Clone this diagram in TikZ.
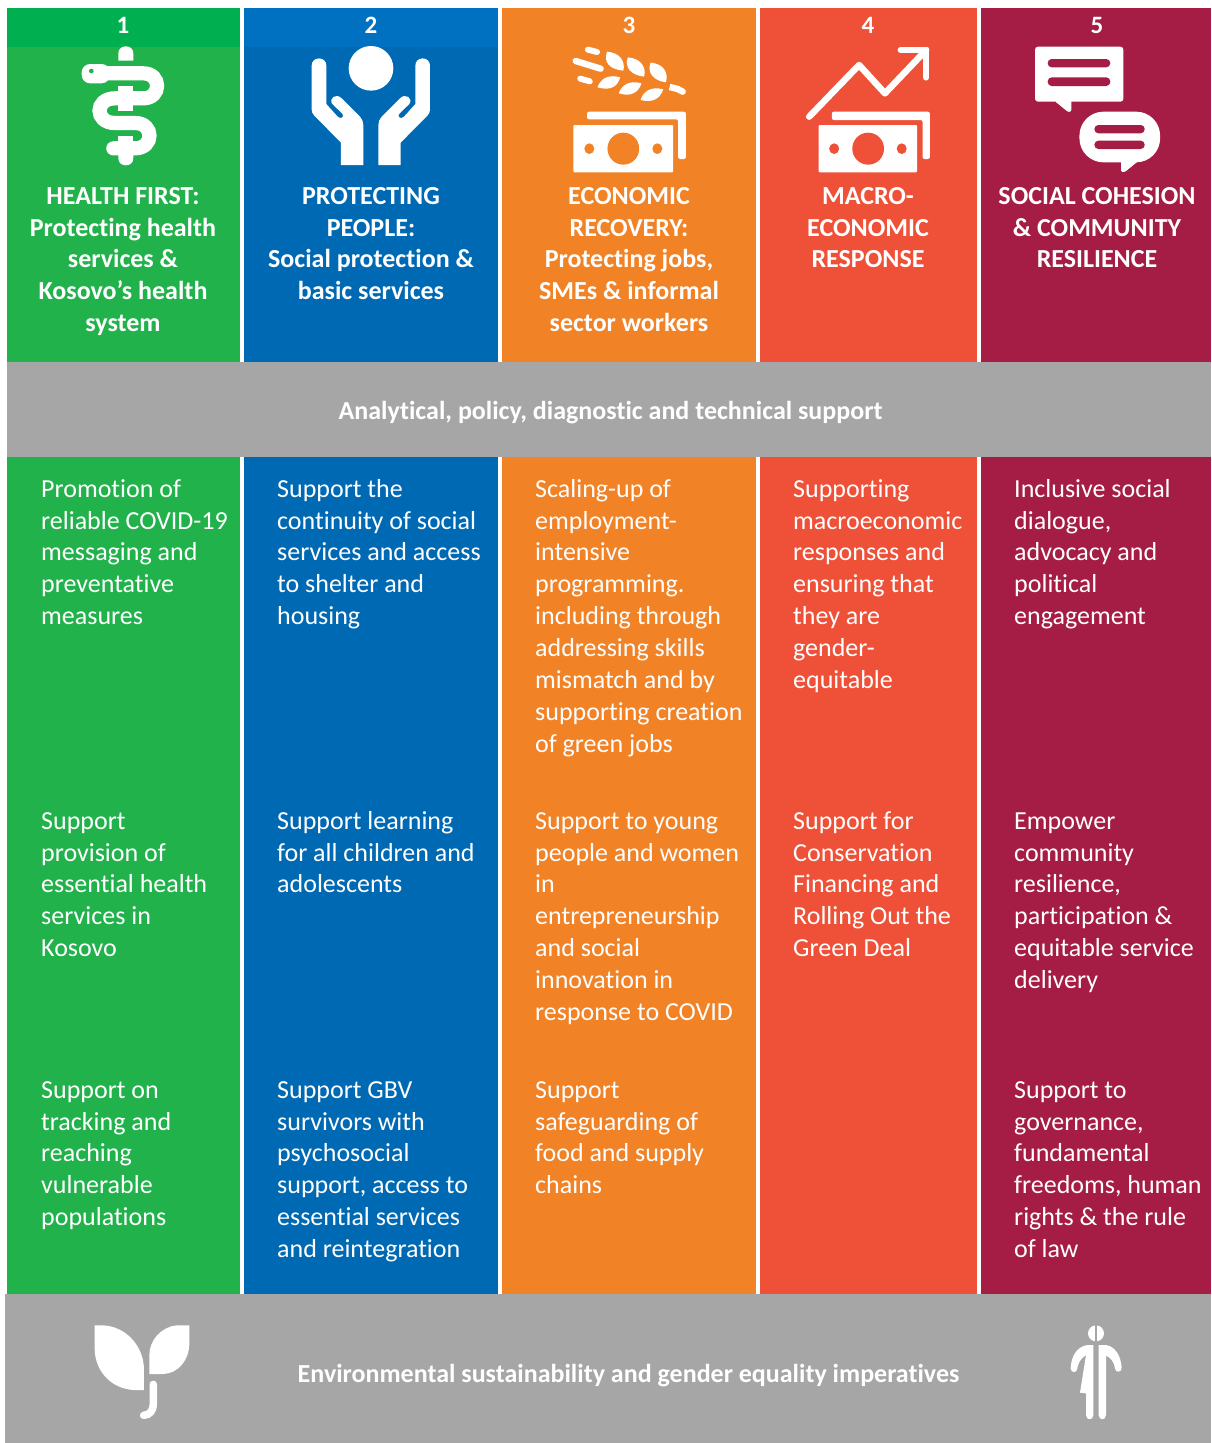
\documentclass[tikz,border=0pt]{standalone}
\usepackage{fontspec}
\setmainfont[Ligatures=NoCommon]{Carlito}
\definecolor{cgreen}{HTML}{22B24C}
\definecolor{cgreenh}{HTML}{00B050}
\definecolor{cblue}{HTML}{0069B4}
\definecolor{cblueh}{HTML}{0070C0}
\definecolor{corange}{HTML}{F18226}
\definecolor{cred}{HTML}{EF5138}
\definecolor{cpurple}{HTML}{A51C44}
\definecolor{cgray}{HTML}{A6A6A6}
\newcommand{\fl}{\rule{0pt}{20pt}}
\tikzset{
 body/.style={anchor=north west,inner sep=0pt,text=white,align=left,font=\fontsize{26}{31.85}\selectfont},
 head/.style={anchor=north,inner sep=0pt,text=white,align=center,font=\fontsize{26}{31.85}\selectfont\bfseries},
 num/.style={anchor=base,inner sep=0pt,text=white,font=\fontsize{25}{28}\selectfont\bfseries},
 band/.style={inner sep=0pt,text=white,font=\fontsize{26}{30}\selectfont\bfseries},
 zoomed/.style={x=0.33333pt,y=-0.33333pt},
 zoomedw/.style={x=0.45338pt,y=-0.33333pt}
}
\begin{document}
\begin{tikzpicture}[x=1pt,y=-1pt]
\useasboundingbox (0,0) rectangle (1211,1443);
\fill[white] (0,0) rectangle (1211,1443);
% columns
\fill[cgreen] (7,8) rectangle (240,1294);
\fill[cgreenh] (7,8) rectangle (240,47);
\fill[cblue] (244,8) rectangle (498,1294);
\fill[cblueh] (244,8) rectangle (498,47);
\fill[corange] (502,8) rectangle (756,1294);
\fill[cred] (760,8) rectangle (977,1294);
\fill[cpurple] (981,8) rectangle (1211,1294);
\fill[cgray] (7,362) rectangle (1211,457);
\fill[cgray] (5,1294) rectangle (1211,1443);
% numbers
\node[num] (n1) at (123,33) {1};
\node[num] (n2) at (371,33) {2};
\node[num] (n3) at (629,33) {3};
\node[num] (n4) at (868,33) {4};
\node[num] (n5) at (1097,33) {5};
% snake icon
\begin{scope}[zoomed,white]
 \fill (355,182) -- (355,160) .. controls (355,132) and (400,132) .. (400,160) -- (400,182) -- cycle;
 \fill (355,258) rectangle (400,332);
 \fill (355,408) rectangle (400,430);
 \fill (355,450) -- (355,475) .. controls (355,503) and (400,503) .. (400,475) -- (400,450) -- cycle;
 \draw[line width=14.2pt,line cap=round] (290,220) -- (430,220) .. controls (485,220) and (485,295) .. (430,295) -- (345,295) .. controls (283,295) and (283,369) .. (345,369) -- (405,369) .. controls (463,369) and (463,445) .. (405,445) -- (340,445);
 \fill[white,rounded corners=8.5pt] (245,192) rectangle (330,250);
 \fill[cgreen] (274,213) circle (7);
\end{scope}
% hands icon
\begin{scope}[zoomed]
 \fill[white] (1113,205) circle (67);
 \foreach \sx/\tx in {1/0,-1/2225}{
 \begin{scope}[shift={(\tx,0)},xscale=\sx]
 \fill[white] (935,197) .. controls (935,168) and (979,168) .. (979,197) -- (979,312) -- (1013,350) .. controls (1022,360) and (1035,350) .. (1027,341) -- (997,312) .. controls (985,295) and (1008,278) .. (1025,295) -- (1080,350) .. controls (1086,357) and (1090,365) .. (1090,375) -- (1090,495) -- (1023,495) -- (1023,428) -- (942,346) .. controls (937,340) and (935,335) .. (935,328) -- cycle;
 \end{scope}}
\end{scope}
% wheat, cash, arrow, bubbles
\begin{scope}[shift={(500,0)},zoomedw]
 \begin{scope}[white,line cap=round]
 \draw[line width=6pt] (194,149) -- (214,156);
 \draw[line width=6.4pt] (167,183) -- (222,206);
 \draw[line width=6pt] (177,236) -- (198,244);
 \draw[line width=6.4pt,line cap=butt] (374,261) -- (395,268);
 \draw[line width=6.4pt] (393,268) -- (403,275);
 \fill (236,155) .. controls (265,158) and (277,185) .. (272,212) .. controls (240,208) and (228,185) .. (236,155) -- cycle;
 \fill (282,172) .. controls (311,175) and (323,202) .. (318,230) .. controls (288,225) and (274,202) .. (282,172) -- cycle;
 \fill (332,188) .. controls (361,191) and (372,218) .. (366,247) .. controls (338,242) and (324,218) .. (332,188) -- cycle;
 \fill (265,232) .. controls (240,222) and (222,235) .. (215,262) .. controls (245,274) and (260,258) .. (265,232) -- cycle;
 \fill (312,250) .. controls (285,240) and (268,255) .. (262,280) .. controls (290,292) and (306,276) .. (312,250) -- cycle;
 \fill (360,268) .. controls (333,258) and (316,274) .. (310,300) .. controls (338,310) and (354,294) .. (360,268) -- cycle;
 \end{scope}
 % cash 3
 \fill[white,rounded corners=2pt] (192,358) -- (192,335) -- (410,335) -- (410,477) -- (393,477) -- (393,358) -- cycle;
 \fill[white,rounded corners=1pt] (162,375) rectangle (382,517);
 \fill[corange] (272,446) ellipse (35 and 48);
 \fill[corange] (197,446) ellipse (11 and 16);
 \fill[corange] (347,446) ellipse (11 and 16);
 % arrow
 \draw[white,line width=6.5pt,line cap=round,line join=round] (682,350) -- (792,195) -- (849,280) -- (940,150);
 \draw[white,line width=6.5pt,line cap=round,line join=round] (884,150) -- (940,150) -- (940,232);
 % cash 4
 \fill[white,rounded corners=2pt] (732,360) -- (732,335) -- (948,335) -- (948,477) -- (932,477) -- (932,360) -- cycle;
 \fill[white,rounded corners=1pt] (703,375) rectangle (920,517);
 \fill[cred] (812,446) ellipse (35 and 48);
 \fill[cred] (737,446) ellipse (11 and 16);
 \fill[cred] (886,446) ellipse (11 and 16);
 % bubbles
 \fill[white,rounded corners=3pt] (1180,140) rectangle (1375,305);
 \fill[white,rounded corners=1pt] (1225,300) -- (1225,305) -- (1253,336) -- (1260,334) -- (1260,300) -- cycle;
 \fill[cpurple,rounded corners=4pt] (1208,177) rectangle (1346,202);
 \fill[cpurple,rounded corners=4pt] (1208,232) rectangle (1346,258);
 \fill[white,rounded corners=24pt] (1278,335) rectangle (1456,487);
 \fill[white,rounded corners=1pt] (1370,480) -- (1370,515) -- (1378,516) -- (1408,483) -- cycle;
 \fill[cpurple,rounded corners=4pt] (1311,375) rectangle (1422,400);
 \fill[cpurple,rounded corners=4pt] (1311,422) rectangle (1422,447);
\end{scope}
% headings
\node[head] (h1) at (123,184) {\fl HEALTH FIRST:\\Protecting health\\services \&\\Kosovo’s health\\system};
\node[head] (h2) at (371,184) {\fl PROTECTING\\PEOPLE:\\Social protection \&\\basic services};
\node[head] (h3) at (629,184) {\fl ECONOMIC\\RECOVERY:\\Protecting jobs,\\SMEs \& informal\\sector workers};
\node[head] (h4) at (868,184) {\fl MACRO-\\ECONOMIC\\RESPONSE};
\node[head] (h5) at (1097,184) {\fl SOCIAL COHESION\\\& COMMUNITY\\RESILIENCE};
% bands
\node[band] (b1) at (610.5,413) {Analytical, policy, diagnostic and technical support};
\node[band] (b2) at (628.5,1376) {Environmental sustainability and gender equality imperatives};
% body row 1
\node[body] (a1) at (41,477) {\fl Promotion of\\reliable COVID-19\\messaging and\\preventative\\measures};
\node[body] (a2) at (277,477) {\fl Support the\\continuity of social\\services and access\\to shelter and\\housing};
\node[body] (a3) at (535,477) {\fl Scaling-up of\\employment-\\intensive\\programming.\\including through\\addressing skills\\mismatch and by\\supporting creation\\of green jobs};
\node[body] (a4) at (793,477) {\fl Supporting\\macroeconomic\\responses and\\ensuring that\\they are\\gender-\\equitable};
\node[body] (a5) at (1014,477) {\fl Inclusive social\\dialogue,\\advocacy and\\political\\engagement};
% body row 2
\node[body] (c1) at (41,809) {\fl Support\\provision of\\essential health\\services in\\Kosovo};
\node[body] (c2) at (277,809) {\fl Support learning\\for all children and\\adolescents};
\node[body] (c3) at (535,809) {\fl Support to young\\people and women\\in\\entrepreneurship\\and social\\innovation in\\response to COVID};
\node[body] (c4) at (793,809) {\fl Support for\\Conservation\\Financing and\\Rolling Out the\\Green Deal};
\node[body] (c5) at (1014,809) {\fl Empower\\community\\resilience,\\participation \&\\equitable service\\delivery};
% body row 3
\node[body] (d1) at (41,1078) {\fl Support on\\tracking and\\reaching\\vulnerable\\populations};
\node[body] (d2) at (277,1078) {\fl Support GBV\\survivors with\\psychosocial\\support, access to\\essential services\\and reintegration};
\node[body] (d3) at (535,1078) {\fl Support\\safeguarding of\\food and supply\\chains};
\node[body] (d5) at (1014,1078) {\fl Support to\\governance,\\fundamental\\freedoms, human\\rights \& the rule\\of law};
% leaf icon
\begin{scope}[shift={(0,1290)},zoomed,white]
 \fill (284,106) -- (310,106) .. controls (380,110) and (432,170) .. (432,240) -- (432,300) -- (400,300) .. controls (330,295) and (284,240) .. (284,175) -- cycle;
 \fill (568,106) -- (530,106) .. controls (485,110) and (448,150) .. (448,195) -- (448,252) -- (490,252) .. controls (535,250) and (568,210) .. (568,160) -- cycle;
 \draw[line width=7.5pt,line cap=round] (460,283) -- (460,340) .. controls (460,362) and (450,375) .. (431,376);
\end{scope}
% person icon
\begin{scope}[shift={(1000,1290)},zoomed,white]
 \fill (288,130) circle (24);
 \fill[cgray] (284.5,100) rectangle (292,160);
 \fill (296,165) -- (318,165) .. controls (345,170) and (362,195) .. (365,232) .. controls (366,248) and (346,250) .. (345,235) .. controls (342,215) and (332,203) .. (318,197) -- (318,375) .. controls (318,392) and (296,392) .. (296,375) -- cycle;
 \fill (280,165) -- (262,165) .. controls (232,170) and (214,195) .. (212,235) .. controls (212,250) and (232,250) .. (232,235) .. controls (234,220) and (242,205) .. (258,195) -- (240,308) -- (258,310) -- (258,375) .. controls (258,392) and (280,392) .. (280,375) -- cycle;
\end{scope}
\end{tikzpicture}
\end{document}
